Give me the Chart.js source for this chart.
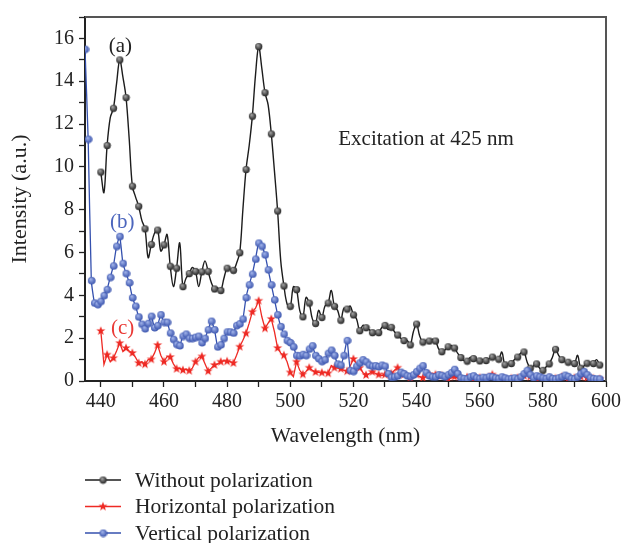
<!DOCTYPE html>
<html>
<head>
<meta charset="utf-8">
<script src="https://cdn.jsdelivr.net/npm/chart.js@4.4.0/dist/chart.umd.min.js"></script>
<style>
  html, body { margin: 0; padding: 0; background: #fff; }
</style>
</head>
<body>
<canvas id="pl" width="624" height="543"></canvas>
<script>
// wavelength grid: 1 nm steps from the start value
const blackStart = 440;
const blackVals = [
  9.76, 8.8, 11.0, 12.3, 12.74, 13.9, 15.0, 14.2, 13.24, 11.3,
  9.1, 8.6, 8.16, 7.5, 7.11, 5.76, 6.38, 6.9, 7.05, 6.07,
  6.36, 6.84, 5.36, 4.41, 5.27, 6.45, 4.41, 4.8, 5.02, 5.3,
  5.12, 4.41, 5.1, 5.61, 5.12, 4.6, 4.3, 4.35, 4.23, 4.8,
  5.27, 5.2, 5.17, 5.5, 5.99, 8.0, 9.88, 11.0, 12.37, 14.3,
  15.62, 14.6, 13.47, 12.9, 11.54, 9.8, 7.94, 5.6, 4.44, 3.6,
  3.49, 4.4, 4.27, 3.3, 3.0, 3.9, 3.64, 2.9, 2.69, 3.3,
  2.97, 3.5, 3.64, 4.23, 3.49, 3.3, 2.84, 3.4, 3.36, 3.5,
  3.09, 2.9, 2.35, 2.6, 2.49, 2.4, 2.26, 2.2, 2.26, 2.5,
  2.6, 2.4, 2.51, 2.3, 2.15, 2.0, 1.89, 1.9, 1.69, 2.3,
  2.66, 2.1, 1.82, 1.9, 1.87, 1.95, 1.87, 1.5, 1.37, 1.45,
  1.6, 1.65, 1.54, 1.3, 1.1, 0.95, 0.93, 1.1, 1.05, 0.95,
  0.94, 1.0, 0.96, 1.05, 1.12, 1.05, 1.02, 1.35, 0.76, 0.8,
  0.82, 1.0, 1.12, 1.3, 1.36, 0.9, 0.6, 0.7, 0.8, 0.6,
  0.5, 0.65, 0.8, 1.1, 1.48, 1.2, 1.0, 0.9, 0.88, 0.85,
  0.82, 1.2, 0.6, 0.7, 0.83, 0.8, 0.82, 1.0, 0.75
];
const redStart = 440;
const redVals = [
  2.34, 0.77, 1.23, 0.9, 1.07, 1.4, 1.77, 1.38, 1.54, 1.4,
  1.31, 1.1, 0.84, 0.9, 0.78, 1.0, 1.01, 1.3, 1.68, 1.2,
  0.9, 1.15, 1.12, 0.8, 0.57, 0.6, 0.51, 0.55, 0.48, 0.6,
  0.9, 1.1, 1.15, 0.8, 0.46, 0.6, 0.75, 0.8, 0.9, 0.95,
  0.92, 0.9, 0.84, 1.2, 1.6, 1.9, 2.23, 2.7, 3.23, 3.4,
  3.75, 3.0, 2.46, 2.7, 2.9, 2.3, 1.54, 1.3, 1.2, 0.9,
  0.4, 0.2, 0.9, 0.5, 0.31, 0.45, 0.62, 0.5, 0.42, 0.4,
  0.39, 0.4, 0.36, 0.72, 0.62, 0.6, 0.57, 0.5, 0.46, 0.7,
  1.03, 0.8, 0.62, 0.4, 0.28, 0.35, 0.43, 0.35, 0.3, 0.25,
  0.3, 0.2, 0.35, 0.5, 0.62, 0.4, 0.3, 0.2, 0.15, 0.2,
  0.3, 0.2, 0.15, 0.2, 0.3, 0.35, 0.3, 0.38, 0.25, 0.15,
  0.1, 0.15, 0.2, 0.15, 0.1, 0.12, 0.18, 0.15, 0.1, 0.12,
  0.15, 0.1, 0.12, 0.2, 0.3, 0.15, 0.1, 0.12, 0.1, 0.15,
  0.12, 0.1, 0.15, 0.2, 0.25, 0.3, 0.2, 0.12, 0.1, 0.15,
  0.1, 0.12, 0.15, 0.1, 0.12, 0.15, 0.2, 0.15, 0.1, 0.12,
  0.15, 0.1, 0.2, 0.25, 0.15, 0.1, 0.12, 0.1, 0.1
];
const blueStart = 435;
const blueVals = [
  15.5, 11.3, 4.7, 3.65, 3.58,
  3.73, 4.0, 4.28, 4.85, 5.38, 6.3, 6.76, 5.5, 5.03, 4.6,
  3.9, 3.5, 3.0, 2.66, 2.45, 2.7, 3.03, 2.5, 2.6, 3.1,
  2.75, 2.75, 2.25, 1.95, 1.72, 1.66, 2.1, 2.2, 2.0, 2.0,
  2.05, 2.1, 1.8, 2.0, 2.4, 2.8, 2.4, 1.6, 1.7, 2.0,
  2.3, 2.3, 2.25, 2.6, 2.68, 2.9, 3.9, 4.5, 5.0, 5.7,
  6.45, 6.3, 5.9, 5.2, 4.5, 3.8, 3.1, 2.55, 2.2, 1.9,
  1.8, 1.6, 1.2, 1.18, 1.25, 1.2, 1.5, 1.65, 1.2, 1.05,
  0.92, 1.0, 1.3, 1.45, 1.2, 0.8, 0.75, 1.2, 1.9, 0.5,
  0.46, 0.7, 0.85, 1.0, 0.9, 0.75, 0.7, 0.72, 0.68, 0.75,
  0.7, 0.35, 0.18, 0.2, 0.25, 0.42, 0.35, 0.25, 0.22, 0.3,
  0.45, 0.6, 0.72, 0.4, 0.25, 0.2, 0.2, 0.3, 0.27, 0.2,
  0.3, 0.4, 0.55, 0.35, 0.15, 0.12, 0.1, 0.2, 0.25, 0.15,
  0.12, 0.18, 0.15, 0.22, 0.2, 0.15, 0.12, 0.2, 0.15, 0.1,
  0.12, 0.15, 0.1, 0.2, 0.35, 0.5, 0.3, 0.15, 0.25, 0.2,
  0.15, 0.12, 0.2, 0.12, 0.1, 0.15, 0.2, 0.28, 0.22, 0.12,
  0.1, 0.2, 0.35, 0.45, 0.3, 0.15, 0.12, 0.1, 0.1
];
const seriesNames = ['Without polarization', 'Horizontal polarization', 'Vertical polarization'];
const curveTags = ['(a)', '(c)', '(b)'];
const noteText = 'Excitation at 425 nm';

const FONT = "'Liberation Serif', 'Times New Roman', serif";
Chart.defaults.font.family = FONT;
Chart.defaults.font.size = 20;
Chart.defaults.color = '#222';

function toPoints(start, vals) {
  return vals.map((v, i) => ({ x: start + i, y: v }));
}

// marker images
function ball(light, dark, r) {
  const c = document.createElement('canvas');
  c.width = c.height = 2 * r + 2;
  const g = c.getContext('2d');
  const gr = g.createRadialGradient(r, r - 0.5, 0.4, r + 1, r + 1, r + 0.5);
  gr.addColorStop(0, light);
  gr.addColorStop(1, dark);
  g.fillStyle = gr;
  g.beginPath();
  g.arc(r + 1, r + 1, r, 0, Math.PI * 2);
  g.fill();
  return c;
}
function star(color, ro, ri) {
  const s = Math.ceil(ro * 2 + 2);
  const c = document.createElement('canvas');
  c.width = c.height = s;
  const g = c.getContext('2d');
  g.fillStyle = color;
  g.beginPath();
  for (let k = 0; k < 10; k++) {
    const a = -Math.PI / 2 + k * Math.PI / 5;
    const r = k % 2 ? ri : ro;
    g.lineTo(s / 2 + r * Math.cos(a), s / 2 + r * Math.sin(a));
  }
  g.closePath();
  g.fill();
  return c;
}
const blackDot = ball('#a0a0a0', '#151515', 3.6);
const blueDot = ball('#9fb1e8', '#2f4aa8', 3.8);
const redStar = star('#ee2a24', 4.8, 2.0);

const everyOther = ctx => (ctx.dataIndex % 2 === 0 ? 4 : 0);

const frame = {
  id: 'frame',
  afterDraw(chart) {
    const { ctx, chartArea: a } = chart;
    ctx.save();
    ctx.strokeStyle = '#555';
    ctx.lineWidth = 2;
    ctx.beginPath();
    ctx.moveTo(a.left, a.top);
    ctx.lineTo(a.right, a.top);
    ctx.lineTo(a.right, a.bottom);
    ctx.stroke();
    ctx.restore();
  }
};

const notes = {
  id: 'notes',
  afterDatasetsDraw(chart) {
    const { ctx, scales: { x, y } } = chart;
    ctx.save();
    ctx.textBaseline = 'middle';
    ctx.textAlign = 'center';
    ctx.font = '21px ' + FONT;
    ctx.fillStyle = '#222';
    ctx.fillText(curveTags[0], x.getPixelForValue(446.2), y.getPixelForValue(15.6));
    ctx.fillStyle = '#4c66bd';
    ctx.fillText(curveTags[2], x.getPixelForValue(446.8), y.getPixelForValue(7.4));
    ctx.fillStyle = '#ea3a36';
    ctx.fillText(curveTags[1], x.getPixelForValue(446.9), y.getPixelForValue(2.45));
    ctx.textAlign = 'left';
    ctx.fillStyle = '#222';
    ctx.font = '21px ' + FONT;
    ctx.fillText(noteText, x.getPixelForValue(515.2), y.getPixelForValue(11.3));
    ctx.restore();
  }
};

const stackLegend = {
  id: 'stackLegend',
  afterDraw(chart) {
    const ctx = chart.ctx;
    ctx.save();
    ctx.font = '21.5px ' + FONT;
    ctx.textBaseline = 'middle';
    ctx.fillStyle = '#222';
    chart.data.datasets.forEach((ds, i) => {
      const yy = 480 + i * 26.5;
      ctx.strokeStyle = ds.borderColor;
      ctx.lineWidth = 1.5;
      ctx.beginPath();
      ctx.moveTo(85, yy);
      ctx.lineTo(121, yy);
      ctx.stroke();
      const m = ds.pointStyle;
      ctx.drawImage(m, 103 - m.width / 2, yy - m.height / 2);
      ctx.fillText(ds.label, 135, yy + 1);
    });
    ctx.restore();
  }
};

new Chart(document.getElementById('pl'), {
  type: 'line',
  data: {
    datasets: [
      {
        label: seriesNames[0],
        data: toPoints(blackStart, blackVals),
        borderColor: '#1c1c1c',
        borderWidth: 1.4,
        tension: 0.35,
        pointStyle: blackDot,
        pointRadius: everyOther,
        order: 3
      },
      {
        label: seriesNames[1],
        data: toPoints(redStart, redVals),
        borderColor: '#ee2a24',
        borderWidth: 1.3,
        tension: 0,
        pointStyle: redStar,
        pointRadius: everyOther,
        order: 2
      },
      {
        label: seriesNames[2],
        data: toPoints(blueStart, blueVals),
        borderColor: '#3450ae',
        borderWidth: 1.3,
        tension: 0.15,
        pointStyle: blueDot,
        pointRadius: 4,
        order: 1
      }
    ]
  },
  options: {
    responsive: false,
    animation: false,
    layout: { padding: { top: 11, right: 16, bottom: 92, left: 0 } },
    plugins: { legend: { display: false }, tooltip: { enabled: false } },
    scales: {
      x: {
        type: 'linear',
        min: 435,
        max: 600,
        afterFit: s => { s.height = 70; },
        border: { color: '#222', width: 2 },
        grid: { drawOnChartArea: false, tickLength: 6, tickColor: '#222', tickWidth: 1.3 },
        ticks: {
          stepSize: 10,
          includeBounds: false,
          autoSkip: false,
          maxRotation: 0,
          padding: 3,
          callback: v => (v % 20 === 0 ? v : '')
        },
        title: { display: true, text: 'Wavelength (nm)', font: { size: 21.5 }, padding: { top: 0, bottom: 2 } }
      },
      y: {
        min: 0,
        max: 17,
        afterFit: s => { s.width = 85; },
        border: { color: '#222', width: 2 },
        grid: { drawOnChartArea: false, tickLength: 6, tickColor: '#222', tickWidth: 1.3 },
        ticks: {
          stepSize: 1,
          autoSkip: false,
          padding: 5,
          callback: v => (v % 2 === 0 && v <= 16 ? v : '')
        },
        title: { display: true, text: 'Intensity (a.u.)', font: { size: 22 }, padding: { top: 7, bottom: 0 } }
      }
    }
  },
  plugins: [frame, notes, stackLegend]
});
</script>
</body>
</html>
